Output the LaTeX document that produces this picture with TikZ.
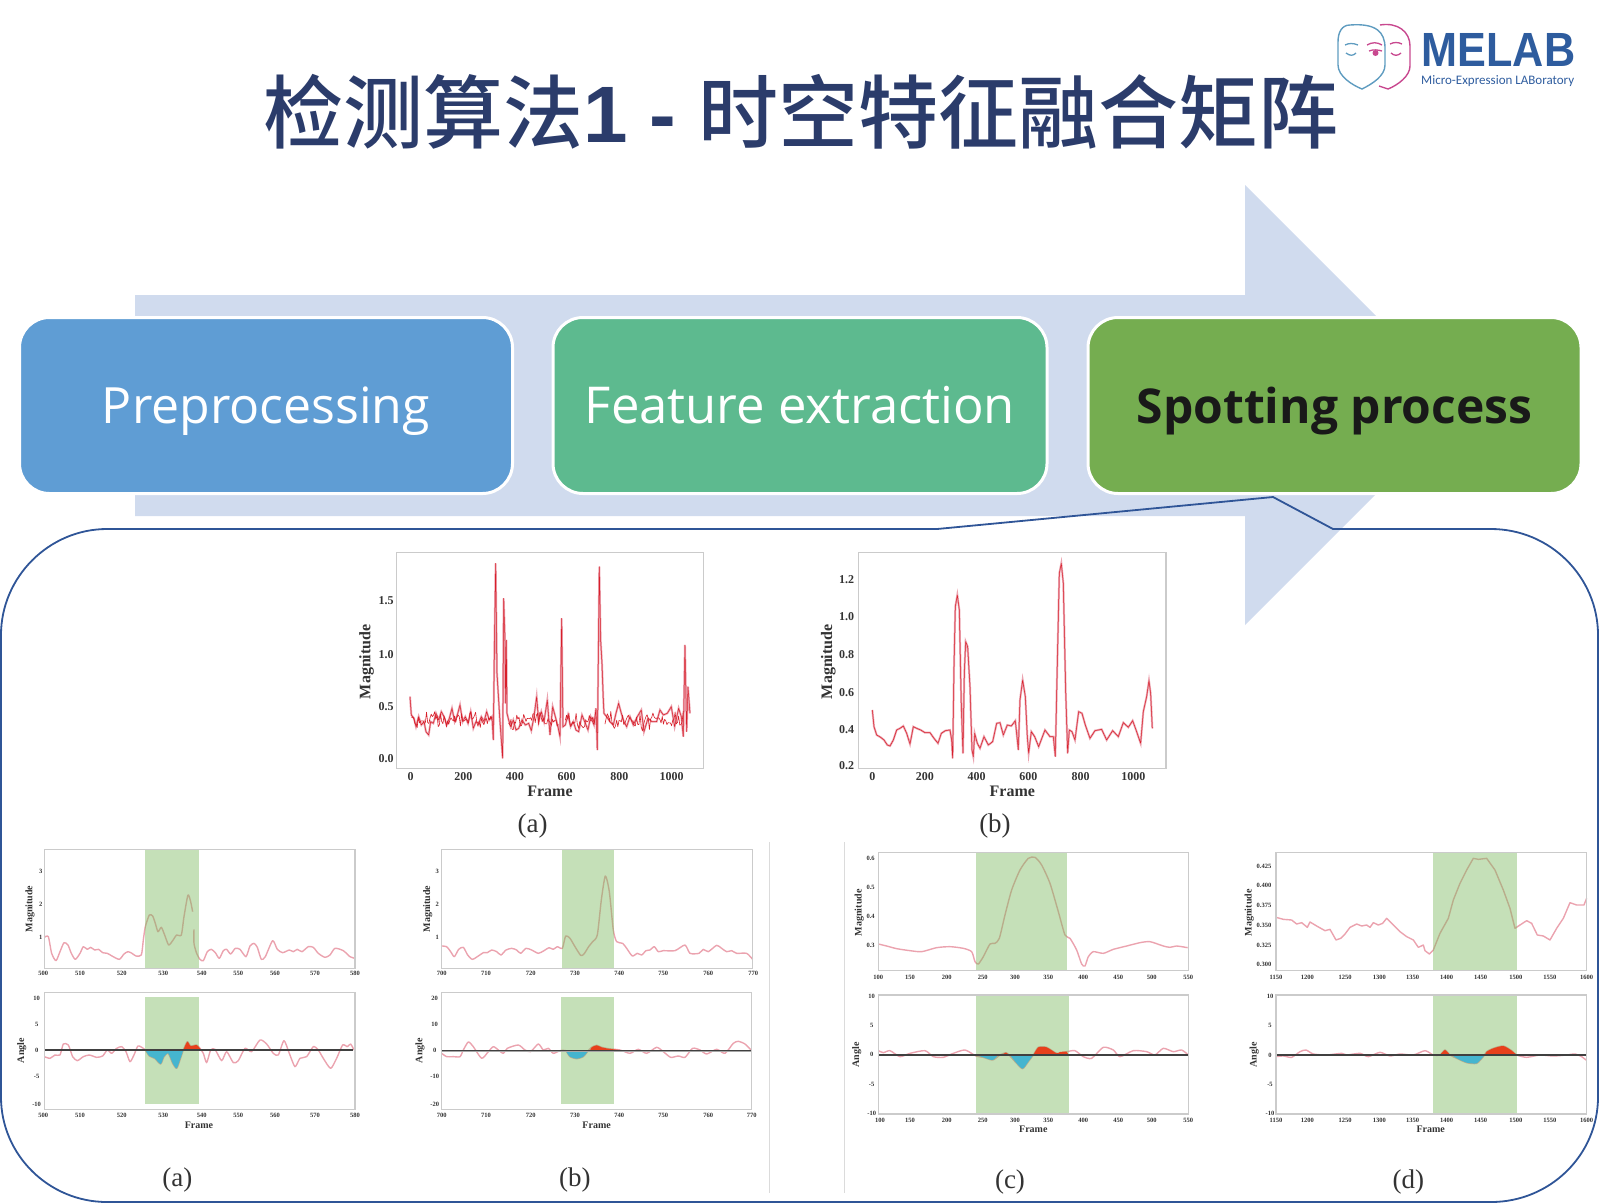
\documentclass[tikz,border=0pt]{standalone}
\usepackage{fontspec}
\setmainfont{Liberation Serif}
\newfontfamily\cjkfont{Noto Sans CJK SC Medium}
\newfontfamily\boxfont{Open Sans}
\newfontfamily\logofont{Liberation Sans}
\newfontfamily\subfont{Carlito}
\definecolor{titleblue}{HTML}{2B3C6B}
\definecolor{arrowblue}{HTML}{D0DBEE}
\definecolor{prepblue}{HTML}{5F9DD4}
\definecolor{featgreen}{HTML}{5DBA8F}
\definecolor{spotgreen}{HTML}{75AD50}
\definecolor{calloutblue}{HTML}{2F5597}
\definecolor{framegray}{HTML}{CBCBCB}
\definecolor{tickgray}{HTML}{333333}
\definecolor{spangreen}{HTML}{7EBA61}
\definecolor{curvepink}{HTML}{EBA3AF}
\definecolor{curvered}{HTML}{D81F2A}
\definecolor{negcyan}{HTML}{45B5CF}
\definecolor{posred}{HTML}{E8401C}
\definecolor{logopink}{HTML}{C8488F}
\definecolor{logoblue}{HTML}{5F9CC0}
\definecolor{logotext}{HTML}{2E5C9E}
\tikzset{
  zoomed/.style={x=0.3333pt, y=-0.3333pt},
  stagebox/.style={rounded corners=30pt, draw=white, line width=3pt, minimum height=176pt, inner sep=0pt, text height=35pt, text depth=0pt, font=\boxfont\fontsize{50.5}{56}\selectfont},
  plotframe/.style={draw=framegray, line width=1.5pt},
  span/.style={fill=spangreen, opacity=.45},
  bigtick/.style={text=tickgray, inner sep=0pt, font=\bfseries\fontsize{12}{12}\selectfont},
  bigaxis/.style={text=tickgray, inner sep=0pt, font=\bfseries\fontsize{16}{16}\selectfont},
  smalltick/.style={text=tickgray, inner sep=0pt, font=\bfseries\fontsize{6.5}{7}\selectfont},
  smallaxis/.style={text=tickgray, inner sep=0pt, font=\bfseries\fontsize{10}{10}\selectfont},
  sublabel/.style={text=black!80, inner sep=0pt, font=\fontsize{27}{27}\selectfont},
  peakline/.style={draw=curvered, line width=.5pt, line join=round, preaction={draw=curvepink, line width=2pt}},
  softline/.style={draw=curvepink, line width=1.4pt, line join=round},
  zeroline/.style={draw=black!75, line width=1.1pt, preaction={draw=black!35, line width=2.2pt}},
}
\begin{document}
\begin{tikzpicture}[x=1pt, y=-1pt]
\useasboundingbox (0,0) rectangle (1600,1203);
% title
\node[text=titleblue, inner sep=0pt, font=\cjkfont\fontsize{80}{90}\selectfont] (title) at (801,112) {检测算法{\logofont\bfseries 1 - }时空特征融合矩阵};
% logo
\draw[logoblue, line width=1.4pt] (1350,25) .. controls (1376,23) and (1385,32) .. (1385,48) -- (1385,65) .. controls (1385,76) and (1372,84) .. (1362,89) .. controls (1352,85) and (1338,76) .. (1338,65) -- (1338,42) .. controls (1338,32) and (1342,25) .. (1350,25) -- cycle;
\draw[logopink, line width=1.4pt] (1380,25) .. controls (1398,22) and (1410,32) .. (1410,46) -- (1410,66) .. controls (1410,76) and (1398,85) .. (1388,89) -- (1379,86);
\draw[logoblue, line width=1.3pt] (1345,45) .. controls (1349,43) and (1353,43) .. (1358,45);
\draw[logoblue, line width=1.3pt] (1346,53) .. controls (1350,56) and (1353,56) .. (1356,53);
\draw[logopink, line width=1.3pt] (1367,45) .. controls (1372,42) and (1377,42) .. (1382,45);
\draw[logopink, line width=1.3pt] (1369,51) .. controls (1374,49) and (1378,50) .. (1382,51);
\fill[logopink] (1375.5,53) circle (3);
\draw[logopink, line width=1.3pt] (1390,44) .. controls (1394,42) and (1398,42) .. (1402,44);
\draw[logopink, line width=1.3pt] (1391,53) .. controls (1394,56) and (1398,56) .. (1401,53);
\node[text=logotext, inner sep=0pt, xscale=.9, font=\logofont\bfseries\fontsize{48}{48}\selectfont] (melab) at (1498.5,50) {MELAB};
\node[text=logotext, inner sep=0pt, anchor=west, font=\subfont\fontsize{13}{13}\selectfont] (micro) at (1421,81.5) {Micro-Expression LABoratory};
% background arrow
\fill[arrowblue] (135,295) -- (1245,295) -- (1245,185) -- (1465,405) -- (1245,625) -- (1245,516) -- (135,516) -- cycle;
% stages
\node[stagebox, fill=prepblue, text=white, minimum width=493pt, font=\boxfont\fontsize{50}{56}\selectfont] (prep) at (266,405.5) {Preprocessing};
\node[stagebox, fill=featgreen, text=white, minimum width=494pt, font=\boxfont\fontsize{50.8}{56}\selectfont] (feat) at (800,405.5) {Feature extraction};
\node[stagebox, fill=spotgreen, text=black!90, minimum width=493pt, font=\boxfont\bfseries\fontsize{48}{56}\selectfont] (spot) at (1334.5,405.5) {Spotting process};
% callout
\draw[calloutblue, line width=1.8pt] (1,635) .. controls (1,577) and (49,529) .. (107,529) -- (937,529) -- (1273,497) -- (1333,529) -- (1491,529) .. controls (1550,529) and (1598,577) .. (1598,635) -- (1598,1097) .. controls (1598,1155) and (1550,1202) .. (1491,1202) -- (107,1202) .. controls (49,1202) and (1,1155) .. (1,1097) -- cycle;
% dividers
\draw[framegray!70, line width=.8pt] (769,842) -- (769,1193);
\draw[framegray!70, line width=.8pt] (844,842) -- (844,1193);
% upper plot a
\begin{scope}[shift={(340,540)}, zoomed]
\draw[peakline] plot coordinates {(210,470)(214,525)(222,535)(228,560)(236,530)(244,555)(252,545)(258,575)(266,585)(272,545)(280,550)(288,520)(296,540)(304,515)(312,530)(320,555)(328,535)(336,505)(344,545)(352,525)(360,495)(368,545)(376,530)(384,550)(392,515)(400,565)(408,545)(416,550)(424,530)(432,545)(440,515)(448,540)(456,530)(460,600)(463,340)(467,70)(471,400)(480,545)(488,655)(491,175)(495,300)(497,490)(499,300)(501,520)(506,540)(512,560)(520,540)(528,570)(536,565)(546,540)(556,555)(566,550)(574,572)(582,530)(590,470)(596,545)(604,515)(612,545)(622,480)(630,585)(638,500)(646,530)(654,560)(660,590)(665,235)(669,560)(676,555)(684,525)(692,560)(700,545)(708,570)(716,575)(726,525)(734,545)(744,570)(752,530)(762,555)(768,505)(772,630)(778,80)(782,300)(786,370)(790,480)(792,520)(800,530)(810,545)(820,555)(828,520)(836,490)(844,520)(852,545)(860,560)(870,530)(880,555)(892,530)(904,510)(912,575)(924,535)(936,545)(950,545)(960,510)(970,525)(982,520)(994,500)(1004,560)(1016,505)(1024,530)(1030,590)(1035,315)(1040,575)(1044,440)(1050,520)};
% dense noise along the baseline
\pgfmathsetseed{7}
\foreach \a/\b/\n [count=\i] in {214/456/70,506/655/44,676/766/26,795/1030/68}
  \draw[draw=curvered, line width=.6pt, line join=round] plot[domain=\a:\b, samples=\n] (\x,{542+rnd*32-rnd*32});
\draw[plotframe] (170,38) rectangle (1090,685);
\foreach \p/\l [count=\i] in {183/1.5,343/1.0,500/0.5,655/0.0}
  \node[bigtick] (ay\i) at (138,\p) {\l};
\foreach \p/\l [count=\i] in {212/0,370/200,525/400,680/600,838/800,995/1000}
  \node[bigtick] (ax\i) at (\p,710) {\l};
\node[bigaxis] (aframe) at (630,755) {Frame};
\node[bigaxis, rotate=90] (amag) at (80,365) {Magnitude};
\node[sublabel] (alabel) at (578,858) {(a)};
\end{scope}
% upper plot b
\begin{scope}[shift={(800,540)}, zoomed]
\draw[peakline] plot coordinates {(217,510)(222,560)(230,585)(242,592)(252,600)(262,615)(270,618)(280,600)(290,570)(300,565)(310,558)(320,580)(330,612)(340,560)(350,565)(362,570)(375,578)(390,578)(402,595)(414,610)(424,580)(436,572)(450,570)(455,600)(458,655)(462,380)(466,200)(472,165)(478,210)(484,500)(489,640)(493,400)(497,305)(503,320)(510,440)(516,630)(520,650)(524,580)(532,610)(540,625)(552,590)(565,615)(578,605)(590,550)(600,548)(610,585)(622,555)(634,558)(646,542)(655,630)(660,480)(668,420)(676,470)(682,590)(686,640)(694,575)(704,590)(716,620)(735,570)(750,590)(760,590)(766,650)(772,370)(778,100)(784,70)(790,130)(797,450)(803,640)(808,570)(816,575)(825,600)(836,515)(846,520)(856,555)(870,595)(885,572)(905,568)(920,600)(938,572)(955,590)(970,548)(985,562)(998,542)(1010,575)(1022,610)(1030,515)(1040,470)(1047,422)(1052,460)(1057,565)};
\draw[plotframe] (175,38) rectangle (1098,685);
\foreach \p/\l [count=\i] in {118/1.2,229/1.0,345/0.8,457/0.6,568/0.4,678/0.2}
  \node[bigtick] (by\i) at (140,\p) {\l};
\foreach \p/\l [count=\i] in {217/0,375/200,530/400,685/600,842/800,1000/1000}
  \node[bigtick] (bx\i) at (\p,710) {\l};
\node[bigaxis] (bframe) at (637,755) {Frame};
\node[bigaxis, rotate=90] (bmag) at (85,365) {Magnitude};
\node[sublabel] (blabel) at (585,858) {(b)};
\end{scope}
% lower panel a
\begin{scope}[shift={(0,840)}, zoomed]
\draw[softline] plot[smooth, tension=.4] coordinates {(133,292)(145,290)(155,340)(168,362)(180,335)(192,308)(204,315)(214,340)(226,358)(240,340)(250,320)(262,328)(272,322)(284,330)(296,328)(308,338)(322,340)(336,348)(358,358)(372,342)(384,335)(396,340)(408,348)(424,345)(430,300)(436,260)(448,225)(458,228)(466,250)(474,275)(484,262)(494,285)(506,315)(518,302)(530,285)(544,285)(552,230)(564,165)(572,185)(578,215)};
\draw[softline] plot[smooth, tension=.4] coordinates {(582,268)(582,310)(590,340)(600,358)(610,362)(622,335)(634,328)(646,338)(658,355)(670,332)(680,328)(692,342)(706,325)(720,328)(738,350)(750,318)(762,310)(772,322)(784,358)(796,350)(818,302)(832,328)(848,338)(868,330)(880,335)(892,328)(906,335)(925,320)(940,322)(955,340)(975,352)(990,345)(1005,325)(1030,332)(1050,350)(1065,355)};
\fill[span] (436,28) rectangle (598,385);
\draw[plotframe] (133,28) rectangle (1065,385);
\foreach \p/\l [count=\i] in {95/3,193/2,292/1}
  \node[smalltick] (cy\i) at (122,\p) {\l};
\foreach \p/\l [count=\i] in {130/500,240/510,365/520,490/530,605/540,715/550,825/560,945/570,1065/580}
  \node[smalltick] (cx\i) at (\p,400) {\l};
\node[smallaxis, rotate=90] (cmag) at (90,207) {Magnitude};
\draw[softline] plot[smooth, tension=.4] coordinates {(133,650)(150,655)(165,645)(180,645)(190,612)(205,615)(218,650)(232,662)(250,650)(268,645)(290,652)(308,648)(322,630)(335,640)(350,625)(365,620)(378,635)(390,665)(402,645)(414,618)(430,625)(436,630)(448,648)(464,655)(482,672)(492,650)(505,640)(518,670)(530,685)(540,660)(550,630)(562,605)(572,618)(590,615)(600,625)(610,640)(620,668)(632,630)(645,628)(665,662)(680,635)(700,668)(715,662)(735,625)(755,635)(780,600)(800,612)(820,640)(835,645)(852,602)(868,640)(885,680)(900,655)(920,650)(940,620)(955,630)(970,655)(992,685)(1010,655)(1028,615)(1042,620)(1052,612)(1062,630)};
\fill[span] (436,472) rectangle (598,793);
\fill[negcyan] plot[smooth, tension=.4] coordinates {(436,630)(448,648)(464,655)(482,672)(492,650)(505,640)(518,670)(530,685)(540,660)(550,630)} -- cycle;
\fill[posred] plot[smooth, tension=.4] coordinates {(550,630)(562,605)(572,618)(590,615)(600,625)(605,630)} -- cycle;
\draw[zeroline] (133,630) -- (1060,630);
\draw[plotframe] (133,458) rectangle (1065,808);
\foreach \p/\l [count=\i] in {475/10,553/5,630/0,710/-5,793/-10}
  \node[smalltick] (dy\i) at (110,\p) {\l};
\foreach \p/\l [count=\i] in {130/500,240/510,365/520,490/530,605/540,715/550,825/560,945/570,1065/580}
  \node[smalltick] (dx\i) at (\p,825) {\l};
\node[smallaxis] (dframe) at (597,855) {Frame};
\node[smallaxis, rotate=90] (dang) at (65,632) {Angle};
\node[sublabel] (dlabel) at (532,1019) {(a)};
\end{scope}
% lower panel b
\begin{scope}[shift={(400,840)}, zoomed]
\draw[softline] plot[smooth, tension=.4] coordinates {(125,318)(140,320)(152,335)(163,350)(176,328)(190,322)(203,345)(217,358)(235,348)(250,338)(262,338)(275,330)(290,335)(303,345)(318,330)(335,325)(350,330)(362,340)(378,325)(395,330)(415,340)(432,332)(447,323)(460,328)(472,320)(487,325)(497,288)(510,295)(525,320)(542,346)(552,342)(566,320)(578,305)(592,285)(604,180)(616,108)(628,155)(640,270)(650,305)(668,310)(680,325)(697,348)(712,340)(725,345)(738,332)(750,330)(763,320)(775,335)(790,332)(825,332)(855,315)(870,340)(897,340)(910,328)(925,335)(950,316)(965,325)(980,335)(995,332)(1010,340)(1040,340)(1058,358)};
\fill[span] (487,28) rectangle (643,385);
\draw[plotframe] (125,28) rectangle (1058,385);
\foreach \p/\l [count=\i] in {95/3,193/2,292/1}
  \node[smalltick] (ey\i) at (112,\p) {\l};
\foreach \p/\l [count=\i] in {125/700,258/710,392/720,525/730,658/740,790/750,925/760,1060/770}
  \node[smalltick] (ex\i) at (\p,400) {\l};
\node[smallaxis, rotate=90] (emag) at (83,207) {Magnitude};
\draw[softline] plot[smooth, tension=.4] coordinates {(125,640)(140,650)(160,650)(180,650)(190,630)(205,606)(220,620)(245,655)(265,635)(280,620)(295,630)(310,640)(322,625)(355,615)(375,630)(392,635)(415,612)(430,630)(445,625)(460,640)(480,632)(497,632)(510,650)(530,656)(550,650)(565,632)(575,622)(590,616)(605,622)(625,626)(660,630)(690,640)(715,628)(740,640)(770,622)(790,635)(812,652)(835,648)(855,652)(878,625)(900,630)(920,642)(950,628)(975,640)(1000,610)(1015,604)(1035,612)(1055,632)};
\fill[span] (484,472) rectangle (642,793);
\fill[negcyan] plot[smooth, tension=.4] coordinates {(497,632)(510,650)(530,656)(550,650)(565,632)} -- cycle;
\fill[posred] plot[smooth, tension=.4] coordinates {(570,632)(575,622)(590,616)(605,622)(625,626)(660,630)} -- cycle;
\draw[zeroline] (125,632) -- (1055,632);
\draw[plotframe] (125,458) rectangle (1055,808);
\foreach \p/\l [count=\i] in {475/20,553/10,630/0,710/-10,793/-20}
  \node[smalltick] (fy\i) at (104,\p) {\l};
\foreach \p/\l [count=\i] in {125/700,258/710,392/720,525/730,658/740,790/750,925/760,1055/770}
  \node[smalltick] (fx\i) at (\p,825) {\l};
\node[smallaxis] (fframe) at (590,855) {Frame};
\node[smallaxis, rotate=90] (fang) at (60,632) {Angle};
\node[sublabel] (flabel) at (525,1019) {(b)};
\end{scope}
% lower panel c
\begin{scope}[shift={(830,840)}, zoomed]
\draw[softline] plot[smooth, tension=.4] coordinates {(145,312)(170,318)(200,326)(240,332)(275,335)(320,323)(360,320)(400,325)(425,335)(435,365)(445,372)(460,350)(480,312)(495,310)(508,295)(525,225)(545,150)(570,90)(595,55)(615,52)(635,75)(660,130)(685,215)(705,285)(720,295)(740,330)(755,372)(765,378)(775,350)(790,335)(820,340)(850,328)(890,318)(930,308)(960,305)(1000,318)(1020,322)(1040,318)(1073,323)};
\fill[span] (438,38) rectangle (712,392);
\draw[plotframe] (145,38) rectangle (1075,392);
\foreach \p/\l [count=\i] in {55/0.6,142/0.5,228/0.4,317/0.3}
  \node[smalltick] (gy\i) at (122,\p) {\l};
\foreach \p/\l [count=\i] in {145/100,240/150,350/200,458/250,555/300,655/350,760/400,865/450,965/500,1075/550}
  \node[smalltick] (gx\i) at (\p,412) {\l};
\node[smallaxis, rotate=90] (gmag) at (88,218) {Magnitude};
\draw[softline] plot[smooth, tension=.4] coordinates {(145,632)(160,638)(180,632)(210,650)(240,640)(285,632)(310,650)(340,652)(370,640)(405,630)(438,648)(460,652)(488,660)(510,645)(528,638)(540,648)(560,670)(578,686)(595,665)(610,645)(625,622)(650,622)(680,640)(710,635)(735,632)(760,650)(785,655)(820,622)(850,630)(870,650)(910,632)(950,635)(975,645)(1000,625)(1030,635)(1055,630)(1075,645)};
\fill[span] (438,465) rectangle (717,822);
\fill[negcyan] plot[smooth, tension=.4] coordinates {(438,645)(460,652)(488,660)(505,645)} -- cycle;
\fill[negcyan] plot[smooth, tension=.4] coordinates {(540,645)(560,670)(578,686)(595,665)(610,645)} -- cycle;
\fill[posred] plot[smooth, tension=.4] coordinates {(515,645)(528,638)(538,645)} -- cycle;
\fill[posred] plot[smooth, tension=.4] coordinates {(610,645)(625,622)(650,622)(680,640)(690,636)(710,635)(715,645)} -- cycle;
\draw[zeroline] (145,645) -- (1075,645);
\draw[plotframe] (145,465) rectangle (1075,822);
\foreach \p/\l [count=\i] in {468/10,557/5,643/0,733/-5,820/-10}
  \node[smalltick] (hy\i) at (125,\p) {\l};
\foreach \p/\l [count=\i] in {150/100,240/150,350/200,458/250,555/300,655/350,760/400,865/450,965/500,1075/550}
  \node[smalltick] (hx\i) at (\p,840) {\l};
\node[smallaxis] (hframe) at (610,868) {Frame};
\node[smallaxis, rotate=90] (hang) at (80,645) {Angle};
\node[sublabel] (hlabel) at (540,1025) {(c)};
\end{scope}
% lower panel d
\begin{scope}[shift={(1220,840)}, zoomed]
\draw[softline] plot coordinates {(168,232)(190,238)(215,240)(230,252)(245,248)(262,262)(270,246)(290,258)(315,272)(330,268)(348,300)(362,295)(375,282)(390,262)(410,252)(425,258)(440,255)(450,262)(460,248)(475,255)(488,250)(500,235)(515,250)(540,275)(560,290)(580,300)(595,322)(610,315)(615,332)(628,342)(640,330)(660,280)(685,235)(700,180)(720,130)(740,90)(760,55)(775,58)(800,55)(825,90)(850,150)(870,205)(885,265)(900,255)(920,242)(935,250)(952,285)(970,288)(990,300)(1010,265)(1030,235)(1050,188)(1070,195)(1092,195)(1100,175)};
\fill[span] (638,38) rectangle (890,392);
\draw[plotframe] (168,38) rectangle (1100,392);
\foreach \p/\l [count=\i] in {78/0.425,137/0.400,195/0.375,255/0.350,315/0.325,372/0.300}
  \node[smalltick] (jy\i) at (132,\p) {\l};
\foreach \p/\l [count=\i] in {168/1150,262/1200,375/1250,478/1300,578/1350,680/1400,782/1450,888/1500,990/1550,1100/1600}
  \node[smalltick] (jx\i) at (\p,412) {\l};
\node[smallaxis, rotate=90] (jmag) at (88,218) {Magnitude};
\draw[softline] plot[smooth, tension=.4] coordinates {(168,650)(190,648)(215,652)(240,635)(258,630)(280,642)(320,645)(365,640)(380,645)(420,640)(445,650)(480,637)(510,648)(540,642)(580,645)(615,632)(640,645)(660,645)(675,630)(690,645)(710,655)(740,668)(770,670)(790,650)(800,635)(820,625)(850,618)(875,632)(890,645)(920,652)(960,645)(1000,648)(1040,645)(1065,642)(1085,650)(1098,660)};
\fill[span] (638,465) rectangle (890,822);
\fill[negcyan] plot[smooth, tension=.4] coordinates {(695,645)(710,655)(740,668)(770,670)(790,650)(795,645)} -- cycle;
\fill[posred] plot[smooth, tension=.4] coordinates {(660,645)(675,630)(690,645)} -- cycle;
\fill[posred] plot[smooth, tension=.4] coordinates {(795,645)(800,635)(820,625)(850,618)(875,632)(890,645)} -- cycle;
\draw[zeroline] (168,645) -- (1098,645);
\draw[plotframe] (168,465) rectangle (1100,822);
\foreach \p/\l [count=\i] in {468/10,557/5,645/0,733/-5,820/-10}
  \node[smalltick] (ky\i) at (150,\p) {\l};
\foreach \p/\l [count=\i] in {168/1150,262/1200,375/1250,478/1300,578/1350,680/1400,782/1450,888/1500,990/1550,1100/1600}
  \node[smalltick] (kx\i) at (\p,840) {\l};
\node[smallaxis] (kframe) at (632,868) {Frame};
\node[smallaxis, rotate=90] (kang) at (103,645) {Angle};
\node[sublabel] (klabel) at (565,1025) {(d)};
\end{scope}
\end{tikzpicture}
\end{document}
